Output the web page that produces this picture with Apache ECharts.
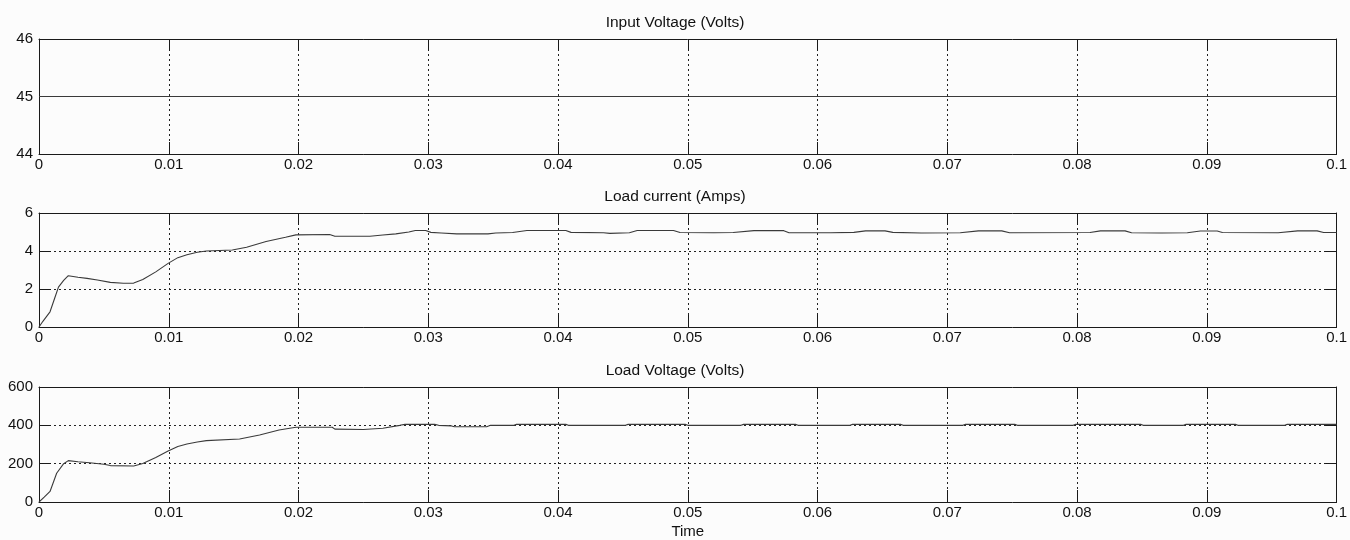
<!DOCTYPE html>
<html>
<head>
<meta charset="utf-8">
<script src="https://cdn.jsdelivr.net/npm/echarts@6/dist/echarts.min.js"></script>
<style>
  html, body { margin: 0; padding: 0; background: #fcfcfc; }
  #chart { width: 1350px; height: 540px; }
</style>
</head>
<body>
<div id="chart"></div>
<script>
// Panel titles and axis ranges
const panelTitles = ['Input Voltage (Volts)', 'Load current (Amps)', 'Load Voltage (Volts)'];
const xTitle = 'Time';
const yRanges = [[44, 46, 1], [0, 6, 2], [0, 600, 200]];

// Input voltage: constant supply [time, volts]
const inputVoltage = [[0, 45], [0.1, 45]];

// Load current [time, amps]
const loadCurrent = [
  [0, 0], [0.0003, 0.3], [0.00085, 0.8], [0.0012, 1.5], [0.0015, 2.1], [0.0019, 2.45], [0.00226, 2.7],
  [0.003, 2.62], [0.0037, 2.56], [0.0045, 2.47], [0.0055, 2.35], [0.0065, 2.3], [0.0073, 2.31],
  [0.008, 2.5], [0.009, 2.9], [0.00995, 3.35], [0.0107, 3.65], [0.0114, 3.8], [0.0122, 3.93],
  [0.0129, 4.0], [0.0149, 4.05], [0.016, 4.2], [0.0175, 4.5], [0.019, 4.72], [0.0198, 4.85],
  [0.0224, 4.87], [0.0228, 4.78], [0.0255, 4.78], [0.0265, 4.84], [0.0275, 4.9], [0.0285, 5.0],
  [0.029, 5.08], [0.0298, 5.08], [0.0302, 4.98], [0.031, 4.95], [0.0322, 4.9], [0.0346, 4.9],
  [0.0352, 4.95], [0.0365, 4.97], [0.0376, 5.08], [0.0406, 5.08], [0.041, 4.98], [0.0435, 4.96],
  [0.044, 4.93], [0.0455, 4.96], [0.0461, 5.08], [0.0489, 5.08], [0.0494, 4.97], [0.052, 4.96],
  [0.0535, 4.97], [0.0551, 5.07], [0.0574, 5.07], [0.0578, 4.96], [0.061, 4.96], [0.0628, 4.98],
  [0.0637, 5.06], [0.0652, 5.06], [0.0658, 4.98], [0.068, 4.95], [0.071, 4.96], [0.0724, 5.06],
  [0.0742, 5.06], [0.0748, 4.96], [0.081, 4.97], [0.0818, 5.06], [0.0837, 5.06], [0.0842, 4.96],
  [0.0865, 4.95], [0.0885, 4.96], [0.0895, 5.05], [0.0908, 5.05], [0.0912, 4.97], [0.0955, 4.96],
  [0.097, 5.06], [0.0985, 5.06], [0.099, 4.97], [0.1, 4.97]
];

// Load voltage [time, volts]
const loadVoltage = [
  [0, 0], [0.0004, 25], [0.00085, 55], [0.00136, 150], [0.0019, 200], [0.00226, 216],
  [0.003, 210], [0.0039, 205], [0.005, 197], [0.0055, 190], [0.0073, 188], [0.008, 201],
  [0.009, 232], [0.00995, 266], [0.0107, 290], [0.0114, 303], [0.0122, 313], [0.0129, 320],
  [0.01546, 329], [0.017, 350], [0.0185, 376], [0.0198, 390], [0.0226, 390], [0.0228, 380],
  [0.025, 378], [0.0265, 385], [0.0278, 400], [0.0282, 405], [0.0305, 405], [0.0308, 400],
  [0.0318, 397], [0.032, 393], [0.0345, 393], [0.0348, 400], [0.0366, 400], [0.0368, 405],
  [0.0406, 405], [0.0408, 400], [0.0452, 400], [0.0454, 405], [0.0498, 405], [0.05, 400],
  [0.0541, 400], [0.0543, 405], [0.0583, 405], [0.0585, 400], [0.0625, 400], [0.0627, 405],
  [0.0664, 405], [0.0666, 400], [0.0712, 400], [0.0714, 405], [0.0752, 405], [0.0754, 400],
  [0.0797, 400], [0.0799, 405], [0.0849, 405], [0.0851, 400], [0.0882, 400], [0.0884, 405],
  [0.0922, 405], [0.0924, 400], [0.096, 400], [0.0962, 405], [0.1, 405]
];

const seriesData = [inputVoltage, loadCurrent, loadVoltage];

const FONT = 'Liberation Sans, Arial, sans-serif';
const frameColor = '#1a1a1a';
const gridTops = [39, 213, 387];
const gridHeights = [115, 114, 115];

const grids = [], xAxes = [], yAxes = [], series = [], titles = [];

gridTops.forEach((top, i) => {
  grids.push({ left: 39, right: 11, top: top, height: gridHeights[i], containLabel: false });

  titles.push({
    text: panelTitles[i], left: 'center', top: top - 24, padding: 0,
    textStyle: { fontFamily: FONT, fontSize: 15.5, fontWeight: 'normal', color: '#111' }
  });

  const tickStyle = { show: true, inside: true, length: 12, lineStyle: { color: frameColor, width: 1 } };
  const dotted = { show: true, lineStyle: { color: '#222', width: 1, type: [2, 3] } };

  // bottom x axis with labels
  xAxes.push({
    type: 'value', gridIndex: i, min: 0, max: 0.1, interval: 0.01, position: 'bottom',
    axisLine: { show: true, onZero: false, lineStyle: { color: frameColor, width: 1 } },
    axisTick: tickStyle,
    axisLabel: {
      margin: 3, fontFamily: FONT, fontSize: 15, color: '#111',
      formatter: v => String(+v.toFixed(2))
    },
    splitLine: dotted,
    name: i === 2 ? xTitle : '', nameLocation: 'middle', nameGap: 22,
    nameTextStyle: { fontFamily: FONT, fontSize: 15, color: '#111' }
  });
  // mirrored top x axis (ticks only)
  xAxes.push({
    type: 'value', gridIndex: i, min: 0, max: 0.1, interval: 0.01, position: 'top',
    axisLine: { show: true, onZero: false, lineStyle: { color: frameColor, width: 1 } },
    axisTick: tickStyle, axisLabel: { show: false }, splitLine: { show: false }
  });

  const [ymin, ymax, yint] = yRanges[i];
  yAxes.push({
    type: 'value', gridIndex: i, min: ymin, max: ymax, interval: yint, position: 'left',
    axisLine: { show: true, onZero: false, lineStyle: { color: frameColor, width: 1 } },
    axisTick: tickStyle,
    axisLabel: { margin: 6, fontFamily: FONT, fontSize: 15, color: '#111' },
    splitLine: dotted
  });
  yAxes.push({
    type: 'value', gridIndex: i, min: ymin, max: ymax, interval: yint, position: 'right',
    axisLine: { show: true, onZero: false, lineStyle: { color: frameColor, width: 1 } },
    axisTick: tickStyle, axisLabel: { show: false }, splitLine: { show: false }
  });

  series.push({
    type: 'line', xAxisIndex: i * 2, yAxisIndex: i * 2, data: seriesData[i],
    showSymbol: false, smooth: false, z: 5,
    lineStyle: { color: '#3a3a3a', width: 1.1 }
  });
});

const chart = echarts.init(document.getElementById('chart'), null, { renderer: 'canvas' });
chart.setOption({
  backgroundColor: '#fcfcfc',
  animation: false,
  title: titles,
  grid: grids,
  xAxis: xAxes,
  yAxis: yAxes,
  series: series
});
</script>
</body>
</html>
